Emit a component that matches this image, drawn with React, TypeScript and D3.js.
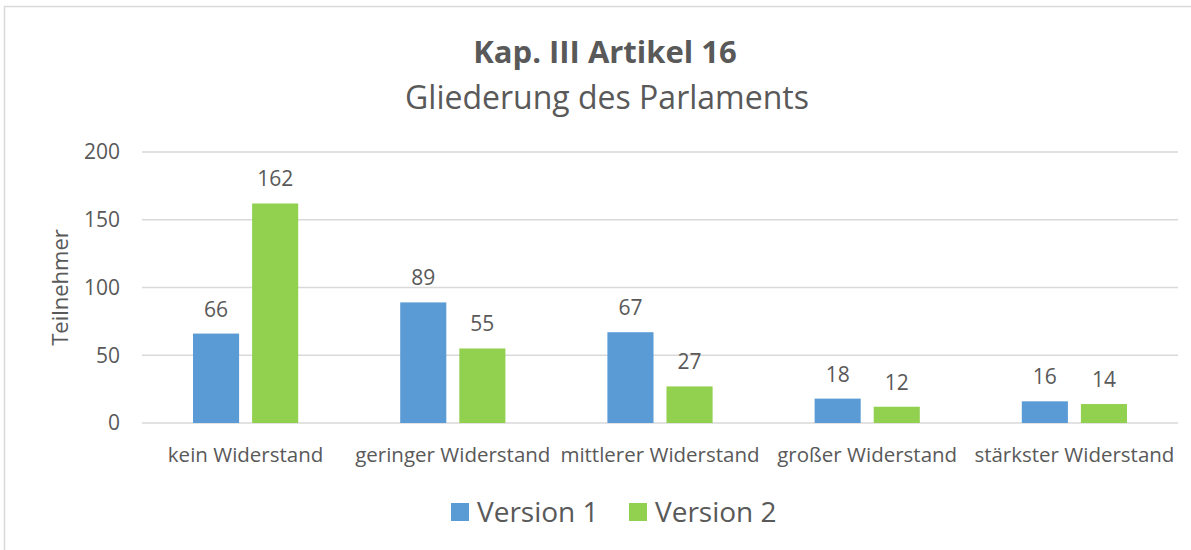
import { useEffect, useRef } from 'react';
import * as d3 from 'd3';

const categories = ['kein Widerstand', 'geringer Widerstand', 'mittlerer Widerstand', 'großer Widerstand', 'stärkster Widerstand'];
const version1 = [66, 89, 67, 18, 16];
const version2 = [162, 55, 27, 12, 14];
const seriesNames = ['Version 1', 'Version 2'];
const yTicks = [0, 50, 100, 150, 200];

const colors = ['#5B9BD5', '#92D050'];
const textColor = '#595959';
const font = '"Open Sans", sans-serif';

export default function App() {
    const svgRef = useRef<SVGSVGElement>(null);

    useEffect(() => {
        const width = 1191;
        const height = 550;
        const margin = { top: 152, right: 13, bottom: 127, left: 142 };
        const innerWidth = width - margin.left - margin.right;
        const innerHeight = height - margin.top - margin.bottom;

        const svg = d3.select(svgRef.current);
        svg.selectAll('*').remove();

        svg.append('rect')
            .attr('width', width)
            .attr('height', height)
            .attr('fill', '#fff');

        // chart frame
        svg.append('rect')
            .attr('x', 4.5)
            .attr('y', 6.5)
            .attr('width', width)
            .attr('height', height)
            .attr('fill', 'none')
            .attr('stroke', '#D9D9D9')
            .attr('stroke-width', 1.5);

        // Titles
        svg.append('text')
            .attr('x', 605)
            .attr('y', 63)
            .attr('text-anchor', 'middle')
            .style('font-family', font)
            .style('font-size', '31px')
            .style('font-weight', 'bold')
            .style('fill', textColor)
            .text('Kap. III Artikel 16');

        svg.append('text')
            .attr('x', 607)
            .attr('y', 109)
            .attr('text-anchor', 'middle')
            .style('font-family', font)
            .style('font-size', '32px')
            .style('fill', textColor)
            .text('Gliederung des Parlaments');

        const g = svg.append('g').attr('transform', `translate(${margin.left},${margin.top})`);

        const x = d3.scaleBand().domain(categories).range([0, innerWidth]);
        const xInner = d3.scaleBand().domain(seriesNames).range([51, x.bandwidth() - 51]).paddingInner(0.22);
        const y = d3.scaleLinear().domain([0, 200]).range([innerHeight, 0]);

        // Gridlines
        g.selectAll('.grid')
            .data(yTicks)
            .enter()
            .append('line')
            .attr('x1', 0)
            .attr('x2', innerWidth)
            .attr('y1', (d) => y(d))
            .attr('y2', (d) => y(d))
            .attr('stroke', '#D9D9D9')
            .attr('stroke-width', 1.5);

        // Y tick labels
        g.selectAll('.ytick')
            .data(yTicks)
            .enter()
            .append('text')
            .attr('x', -22)
            .attr('y', (d) => y(d))
            .attr('dy', '0.35em')
            .attr('text-anchor', 'end')
            .style('font-family', font)
            .style('font-size', '21px')
            .style('fill', textColor)
            .text((d) => d);

        // Y axis title
        svg.append('text')
            .attr('transform', `translate(68,${margin.top + innerHeight / 2}) rotate(-90)`)
            .attr('text-anchor', 'middle')
            .style('font-family', font)
            .style('font-size', '22px')
            .style('fill', textColor)
            .text('Teilnehmer');

        const rows = categories.map((c, i) => ({ c, values: [version1[i], version2[i]] }));

        const groups = g.selectAll('.cat')
            .data(rows)
            .enter()
            .append('g')
            .attr('transform', (d) => `translate(${x(d.c)},0)`);

        groups.selectAll('rect')
            .data((d) => d.values.map((v, i) => ({ v, s: seriesNames[i], i })))
            .enter()
            .append('rect')
            .attr('x', (d) => xInner(d.s)!)
            .attr('width', xInner.bandwidth())
            .attr('y', (d) => y(d.v))
            .attr('height', (d) => innerHeight - y(d.v))
            .attr('fill', (d) => colors[d.i]);

        // value labels above bars
        groups.selectAll('.label')
            .data((d) => d.values.map((v, i) => ({ v, s: seriesNames[i] })))
            .enter()
            .append('text')
            .attr('x', (d) => xInner(d.s)! + xInner.bandwidth() / 2)
            .attr('y', (d) => y(d.v) - 17)
            .attr('text-anchor', 'middle')
            .style('font-family', font)
            .style('font-size', '21px')
            .style('fill', textColor)
            .text((d) => d.v);

        // Category labels
        g.selectAll('.xlabel')
            .data(categories)
            .enter()
            .append('text')
            .attr('x', (d) => x(d)! + x.bandwidth() / 2)
            .attr('y', innerHeight + 39)
            .attr('text-anchor', 'middle')
            .style('font-family', font)
            .style('font-size', '20.5px')
            .style('fill', textColor)
            .text((d) => d);

        // Legend
        const legendX = [451, 629];
        seriesNames.forEach((name, i) => {
            svg.append('rect')
                .attr('x', legendX[i])
                .attr('y', 503)
                .attr('width', 18)
                .attr('height', 18)
                .attr('fill', colors[i]);
            svg.append('text')
                .attr('x', legendX[i] + 26)
                .attr('y', 522)
                .style('font-family', font)
                .style('font-size', '28px')
                .style('fill', textColor)
                .text(name);
        });
    }, []);

    return (
        <svg ref={svgRef} width={1191} height={550} style={{ display: 'block', position: 'absolute', left: 0, top: 0 }}></svg>
    );
}
